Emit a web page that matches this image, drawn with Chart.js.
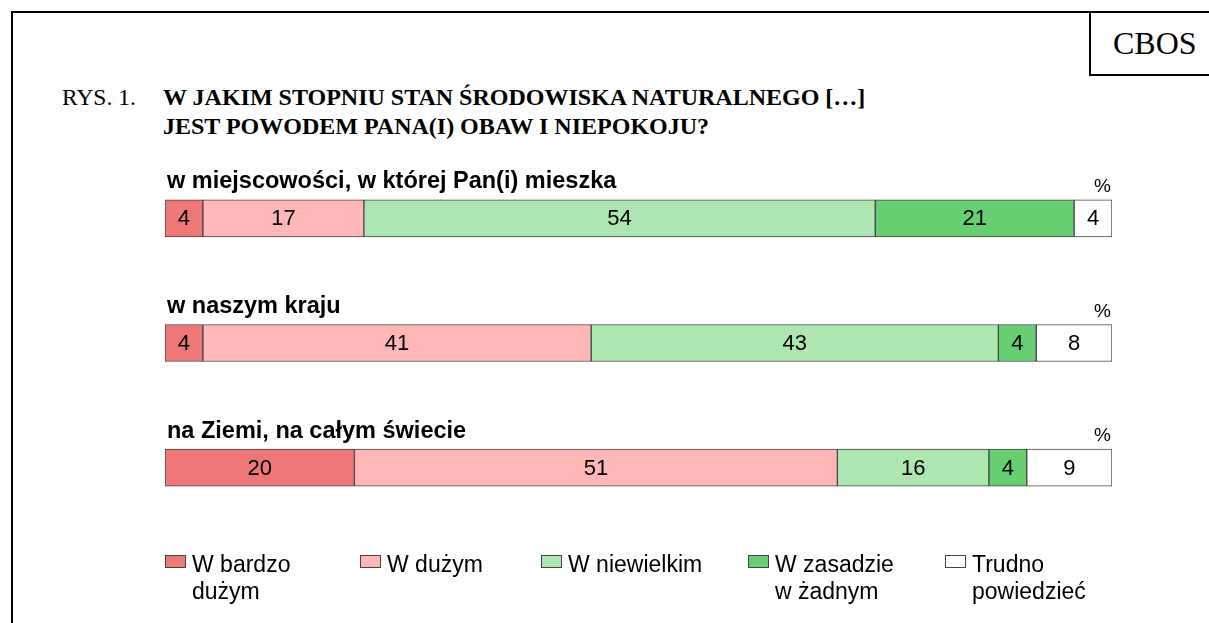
<!DOCTYPE html>
<html>
<head>
<meta charset="utf-8">
<script src="https://cdn.jsdelivr.net/npm/chart.js@4/dist/chart.umd.min.js"></script>
<style>
    body { margin: 0; background: #fff; }
    #page { position: relative; width: 1209px; height: 623px; overflow: hidden; font-family: "Liberation Sans", Arial, sans-serif; }
    #frame { position: absolute; left: 11px; top: 11px; width: 1300px; height: 700px; border-top: 2px solid #000; border-left: 2px solid #000; }
    #cbos { position: absolute; left: 1089px; top: 11px; width: 200px; height: 63px; border-left: 2px solid #000; border-bottom: 2px solid #000; }
    #cbos span { position: absolute; left: 22px; top: 14px; font: 32px "Liberation Serif", "Times New Roman", serif; }
    .serif { position: absolute; font-family: "Liberation Serif", "Times New Roman", serif; font-size: 23.5px; line-height: 29px; white-space: nowrap; }
    #title { font-weight: bold; font-size: 24px; }
    canvas { position: absolute; left: 0; top: 0; }
    .leg { position: absolute; top: 551px; font-size: 23px; line-height: 27px; color: #000; }
    .leg i { position: absolute; left: 0; top: 4px; width: 19px; height: 11px; border: 1px solid #444; }
    .leg span { position: absolute; left: 27px; top: 0; white-space: nowrap; }
</style>
</head>
<body>
<div id="page">
    <div id="frame"></div>
    <div id="cbos"><span>CBOS</span></div>
    <div class="serif" style="left:62px; top:83px;">RYS. 1.</div>
    <div class="serif" id="title" style="left:163px; top:83px;">W JAKIM STOPNIU STAN ŚRODOWISKA NATURALNEGO […]<br>JEST POWODEM PANA(I) OBAW I NIEPOKOJU?</div>
    <canvas id="chart" width="1209" height="623"></canvas>
    <div id="legend"></div>
</div>

<script>
// ================= DATA =================
const rows = ["w miejscowości, w której Pan(i) mieszka", "w naszym kraju", "na Ziemi, na całym świecie"];
const wBardzoDuzym = [4, 4, 20];
const wDuzym = [17, 41, 51];
const wNiewielkim = [54, 43, 16];
const wZasadzieZadnym = [21, 4, 4];
const trudnoPowiedziec = [4, 8, 9];
const seriesLabels = [["W bardzo", "dużym"], ["W dużym"], ["W niewielkim"], ["W zasadzie", "w żadnym"], ["Trudno", "powiedzieć"]];
const seriesColors = ["#ee7878", "#ffb7b7", "#ade6b0", "#67cf72", "#ffffff"];
const legendX = [165, 360, 541, 748, 945];

const seriesValues = [wBardzoDuzym, wDuzym, wNiewielkim, wZasadzieZadnym, trudnoPowiedziec];

// ================= LABELS PLUGIN =================
const barTextPlugin = {
    id: "barText",
    afterDatasetsDraw(chart) {
        const ctx = chart.ctx;
        ctx.save();
        ctx.fillStyle = "#000";
        ctx.textBaseline = "middle";

        // values inside segments
        ctx.font = '22px "Liberation Sans", Arial, sans-serif';
        ctx.textAlign = "center";
        chart.data.datasets.forEach((ds, i) => {
            chart.getDatasetMeta(i).data.forEach((bar, j) => {
                ctx.fillText(String(ds.data[j]), (bar.x + bar.base) / 2, bar.y + 1);
            });
        });

        // row titles and % signs
        chart.getDatasetMeta(0).data.forEach((bar, j) => {
            const top = bar.y - bar.height / 2;
            ctx.font = 'bold 23.5px "Liberation Sans", Arial, sans-serif';
            ctx.textAlign = "left";
            ctx.fillText(rows[j], chart.chartArea.left + 2, top - 18);
            ctx.font = '19px "Liberation Sans", Arial, sans-serif';
            ctx.textAlign = "right";
            ctx.fillText("%", chart.chartArea.right - 1, top - 13);
        });
        ctx.restore();
    }
};

// ================= CHART =================
new Chart(document.getElementById("chart"), {
    type: "bar",
    data: {
        labels: rows,
        datasets: seriesValues.map((vals, i) => ({
            label: seriesLabels[i].join(" "),
            data: vals,
            backgroundColor: seriesColors[i],
            borderColor: "#454545",
            borderWidth: 1,
            borderSkipped: false,
            barThickness: 37
        }))
    },
    options: {
        indexAxis: "y",
        responsive: false,
        animation: false,
        layout: { padding: { left: 165, right: 97, top: 156, bottom: 93 } },
        scales: {
            x: { stacked: true, min: 0, max: 100, display: false },
            y: { stacked: true, display: false }
        },
        plugins: {
            legend: { display: false },
            tooltip: { enabled: false }
        }
    },
    plugins: [barTextPlugin]
});

// ================= LEGEND =================
const legendEl = document.getElementById("legend");
seriesLabels.forEach((lines, i) => {
    legendEl.innerHTML += `
        <div class="leg" style="left:${legendX[i]}px">
            <i style="background:${seriesColors[i]}"></i>
            <span>${lines.join("<br>")}</span>
        </div>
    `;
});
</script>
</body>
</html>
